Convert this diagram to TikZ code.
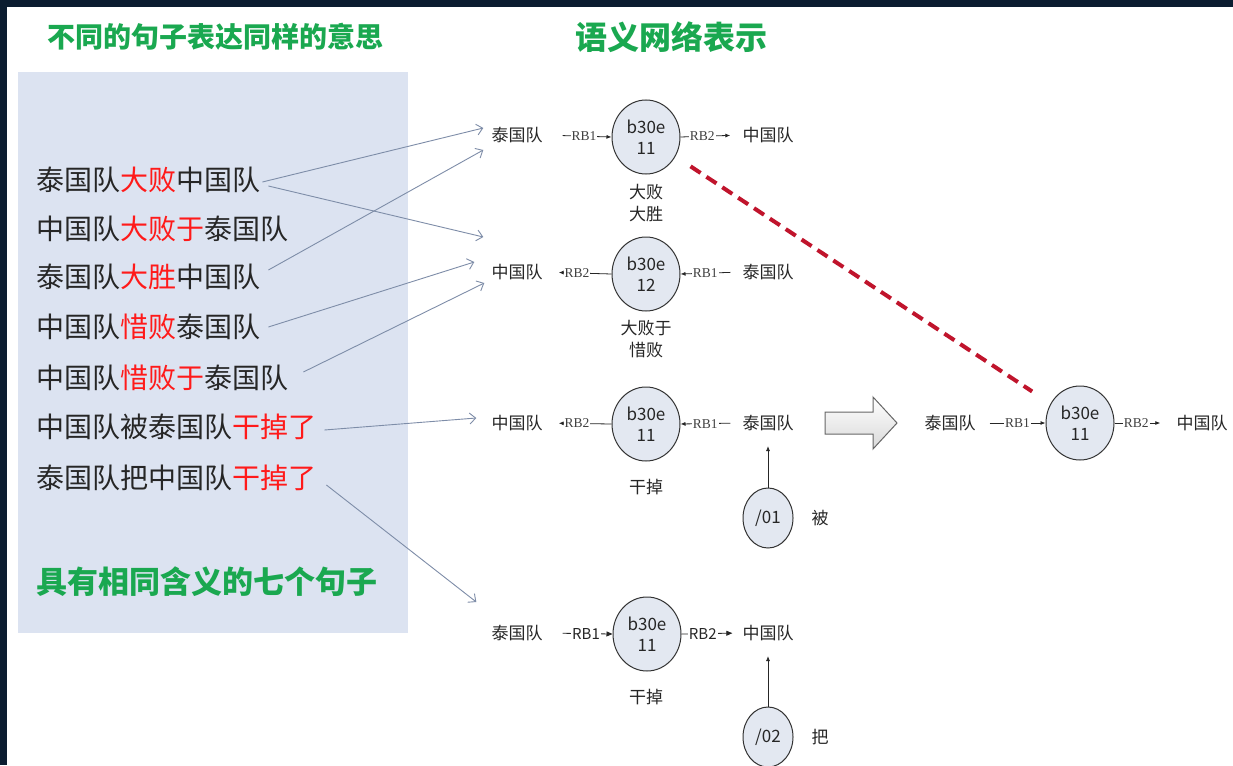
\documentclass[tikz,border=0pt]{standalone}
\usepackage{fontspec}
\setmainfont{Noto Sans CJK SC}
\newfontfamily\serifrb{Liberation Serif}
\usetikzlibrary{arrows.meta,shapes.geometric}
\definecolor{darkbg}{HTML}{0B1D30}
\definecolor{panel}{HTML}{DCE3F1}
\definecolor{titlegreen}{HTML}{1AA850}
\definecolor{hl}{HTML}{FF1A1A}
\definecolor{linkc}{HTML}{7E8DA8}
\definecolor{cfill}{HTML}{E3E8F1}
\definecolor{dred}{HTML}{C0142C}
\definecolor{ink}{HTML}{262626}
\begin{document}
\begin{tikzpicture}[x=1pt,y=-1pt,
  sent/.style={anchor=west, inner sep=0pt, text=ink, font=\fontsize{28}{28}\selectfont},
  title/.style={inner sep=0pt, text=titlegreen, font=\bfseries\fontsize{28}{28}\selectfont},
  ent/.style={inner sep=0pt, text=ink, font=\fontsize{17}{17}\selectfont},
  sub/.style={inner sep=0pt, text=ink, align=center, font=\fontsize{17}{22}\selectfont},
  cnode/.style={ellipse, draw=black!80, line width=1pt, fill=cfill, minimum width=68pt, minimum height=74pt, inner sep=0pt, align=center, text=ink, font=\fontsize{17}{21}\selectfont},
  onode/.style={ellipse, draw=black!80, line width=1pt, fill=cfill, minimum width=50pt, minimum height=60pt, inner sep=0pt, text=ink, font=\fontsize{17}{17}\selectfont},
  rel/.style={draw=black!85, line width=0.8pt, -{Latex[length=5pt,width=4pt]}},
  rlab/.style={fill=white, inner sep=1pt, text=black!75, font=\serifrb\fontsize{13.5}{13.5}\selectfont},
  rlabs/.style={fill=white, inner sep=1pt, text=ink, font=\fontsize{15}{15}\selectfont},
  link/.style={draw=linkc, line width=0.9pt, -{Straight Barb[length=6pt,width=11pt]}}
]
\useasboundingbox (0,0) rectangle (1233,765);
% background
\fill[white] (0,0) rectangle (1233,765);
\fill[darkbg] (0,0) rectangle (1233,7);
\fill[darkbg] (0,0) rectangle (7,765);
\fill[panel] (18,72) rectangle (408,633);

% titles
\node[title] (t1) at (215,37) {不同的句子表达同样的意思};
\node[title, font=\bfseries\fontsize{32}{32}\selectfont] (t2) at (671,37) {语义网络表示};
\node[title, font=\bfseries\fontsize{31}{31}\selectfont] (t3) at (207,582) {具有相同含义的七个句子};

% sentences
\node[sent] (s1) at (36,180) {泰国队\textcolor{hl}{大败}中国队};
\node[sent] (s2) at (36,229) {中国队\textcolor{hl}{大败于}泰国队};
\node[sent] (s3) at (36,277) {泰国队\textcolor{hl}{大胜}中国队};
\node[sent] (s4) at (36,327) {中国队\textcolor{hl}{惜败}泰国队};
\node[sent] (s5) at (36,378) {中国队\textcolor{hl}{惜败于}泰国队};
\node[sent] (s6) at (36,427) {中国队被泰国队\textcolor{hl}{干掉了}};
\node[sent] (s7) at (36,478) {泰国队把中国队\textcolor{hl}{干掉了}};

% row 1
\node[ent] (r1a) at (517,135) {泰国队};
\node[cnode] (c1) at (646,137) {b30e\\11};
\node[ent] (r1b) at (768,135) {中国队};
\node[sub] (l1) at (646,203) {大败\\大胜};
\draw[rel, shorten <=20pt] (r1a.east) -- (c1.west) node[rlab, pos=0.6] {RB1};
\draw[rel, shorten >=12pt] (c1.east) -- (r1b.west) node[rlab, pos=0.35] {RB2};

% row 2
\node[ent] (r2a) at (517,272) {中国队};
\node[cnode] (c2) at (646,274) {b30e\\12};
\node[ent] (r2b) at (768,272) {泰国队};
\node[sub] (l2) at (646,339) {大败于\\惜败};
\draw[rel, shorten >=16pt] (c2.west) -- (r2a.east) node[rlab, midway] {RB2};
\draw[rel, shorten <=12pt] (r2b.west) -- (c2.east) node[rlab, pos=0.6] {RB1};

% row 3
\node[ent] (r3a) at (517,423) {中国队};
\node[cnode] (c3) at (646,424) {b30e\\11};
\node[ent] (r3b) at (768,423) {泰国队};
\node[sub] (l3) at (646,487) {干掉};
\node[onode] (o1) at (768,518) {/01};
\node[ent] (bei) at (820,518) {被};
\draw[rel, shorten >=16pt] (c3.west) -- (r3a.east) node[rlab, midway] {RB2};
\draw[rel, shorten <=12pt] (r3b.west) -- (c3.east) node[rlab, pos=0.6] {RB1};
\draw[rel, shorten >=15pt] (o1.north) -- (r3b.south);

% row 4
\node[ent] (r4a) at (517,633) {泰国队};
\node[cnode] (c4) at (647,634) {b30e\\11};
\node[ent] (r4b) at (768,633) {中国队};
\node[sub] (l4) at (646,697) {干掉};
\node[onode] (o2) at (768,737) {/02};
\node[ent] (ba) at (820,737) {把};
\draw[rel, -{Triangle[length=6pt,width=5pt]}, shorten <=20pt] (r4a.east) -- (c4.west) node[rlabs, pos=0.62] {RB1};
\draw[rel, -{Triangle[length=6pt,width=5pt]}, shorten >=10pt] (c4.east) -- (r4b.west) node[rlabs, pos=0.35] {RB2};
\draw[rel, shorten >=15pt] (o2.north) -- (r4b.south);

% big hollow arrow
\draw[black!60, line width=1pt, top color=white, bottom color=black!15]
  (825,412) -- (873,412) -- (873,397) -- (897,423) -- (873,449) -- (873,434) -- (825,434) -- cycle;

% right result
\node[ent] (r5a) at (950,423) {泰国队};
\node[cnode] (c5) at (1080,423) {b30e\\11};
\node[ent] (r5b) at (1202,423) {中国队};
\draw[rel, shorten <=14pt] (r5a.east) -- (c5.west) node[rlab, pos=0.6] {RB1};
\draw[rel, shorten >=16pt] (c5.east) -- (r5b.west) node[rlab, pos=0.35] {RB2};

% red dashed relation
\draw[dred, line width=4pt, dash pattern=on 12pt off 7pt, shorten <=18pt, shorten >=22pt] (c1) -- (c5);

% links from sentences
\draw[link] ([xshift=2pt,yshift=-2pt]s1.east) -- ([xshift=-8pt,yshift=7pt]r1a.west);
\draw[link] ([xshift=8pt,yshift=-6pt]s1.east) -- ([xshift=-8pt,yshift=35pt]r2a.west);
\draw[link] ([xshift=8pt,yshift=7pt]s3.east) -- ([xshift=-8pt,yshift=-15pt]r1a.west);
\draw[link] ([xshift=8pt]s4.east) -- ([xshift=-17pt,yshift=10pt]r2a.west);
\draw[link] ([xshift=15pt,yshift=6pt]s5.east) -- ([xshift=-7pt,yshift=-11pt]r2a.west);
\draw[link] ([xshift=8pt,yshift=-3pt]s6.east) -- ([xshift=-15pt,yshift=5pt]r3a.west);
\draw[link] ([xshift=10pt,yshift=-7pt]s7.east) -- ([xshift=-15pt,yshift=31pt]r4a.west);
\end{tikzpicture}
\end{document}
